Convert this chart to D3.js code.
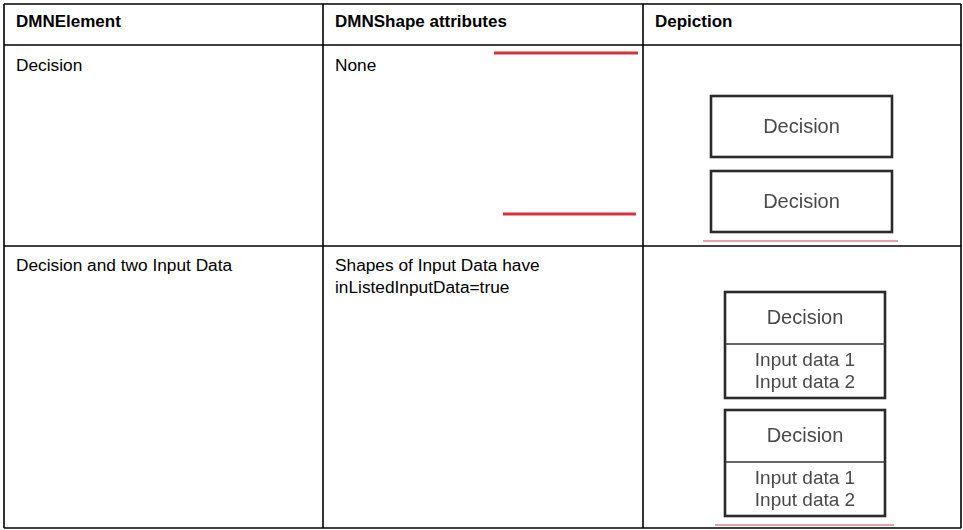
<!DOCTYPE html>
<html>
<head>
<meta charset="utf-8">
<script src="https://cdn.jsdelivr.net/npm/d3@7"></script>
<style>
html,body{margin:0;padding:0;background:#fff;}
svg{display:block;}
</style>
</head>
<body>
<svg id="chart" width="963" height="530"></svg>
<script>
// ---- data ----
const columns = ["DMNElement", "DMNShape attributes", "Depiction"];
const rowKeys = ["header", "row1", "row2"];
const elements = ["Decision", "Decision and two Input Data"];
const attributes = [["None"], ["Shapes of Input Data have", "inListedInputData=true"]];
const depictionTitles = ["Decision", "Decision"];
const depictionInputs = [[], ["Input data 1", "Input data 2"]];
const shapesPerRow = [2, 2];

// ---- layout scales ----
const colLeft = d3.scaleOrdinal().domain(columns).range([4, 323, 643]);
const tableRight = 961;
const rowTop = d3.scaleOrdinal().domain(rowKeys).range([4, 45, 246]);
const tableBottom = 528;

const svg = d3.select("#chart");
const font = "'Liberation Sans', Arial, Helvetica, sans-serif";

// grid lines
const gridColor = "#000";
const gw = 1.6;
const vx = columns.map(c => colLeft(c)).concat([tableRight]);
const hy = rowKeys.map(r => rowTop(r)).concat([tableBottom]);
svg.append("g").selectAll("line.v").data(vx).join("line")
  .attr("x1", d => d).attr("x2", d => d).attr("y1", hy[0]).attr("y2", tableBottom)
  .attr("stroke", gridColor).attr("stroke-width", gw);
svg.append("g").selectAll("line.h").data(hy).join("line")
  .attr("x1", vx[0]).attr("x2", tableRight).attr("y1", d => d).attr("y2", d => d)
  .attr("stroke", gridColor).attr("stroke-width", gw);

// header
svg.append("g").selectAll("text").data(columns).join("text")
  .attr("x", d => colLeft(d) + 12)
  .attr("y", rowTop("header") + 23)
  .attr("font-family", font).attr("font-size", 17).attr("font-weight", "bold")
  .attr("fill", "#000").text(d => d);

// row text column 1
const dataRows = rowKeys.slice(1);
const rowTextOffset = [26, 25];
svg.append("g").selectAll("text").data(elements).join("text")
  .attr("x", colLeft(columns[0]) + 12)
  .attr("y", (d, i) => rowTop(dataRows[i]) + rowTextOffset[i])
  .attr("font-family", font).attr("font-size", 17.3).attr("fill", "#000")
  .text(d => d);

// row text column 2
attributes.forEach((lines, i) => {
  svg.append("g").selectAll("text").data(lines).join("text")
    .attr("x", colLeft(columns[1]) + 12)
    .attr("y", (d, j) => rowTop(dataRows[i]) + rowTextOffset[i] + j * 21.5)
    .attr("font-family", font).attr("font-size", 17.3).attr("fill", "#000")
    .text(d => d);
});

// red annotation bars in column 2 (first row)
const redBars = [
  {x1: 494, x2: 638, y: 53},
  {x1: 503, x2: 636, y: 214}
];
svg.append("g").selectAll("line").data(redBars).join("line")
  .attr("x1", d => d.x1).attr("x2", d => d.x2).attr("y1", d => d.y).attr("y2", d => d.y)
  .attr("stroke", "#d6323a").attr("stroke-width", 3);

// depiction shapes
const shapeGeom = [
  {x: 711, w: 181, tops: [96, 171], h: 61, titleH: 61},
  {x: 725, w: 160, tops: [292, 410], h: 106, titleH: 52}
];
const underlines = [
  {x1: 703, x2: 898, y: 241},
  {x1: 715, x2: 894, y: 525}
];
svg.append("defs").append("filter").attr("id", "soft")
  .append("feGaussianBlur").attr("stdDeviation", 0.45);

depictionTitles.forEach((title, i) => {
  const g = shapeGeom[i];
  const inputs = depictionInputs[i];
  const shapes = d3.range(shapesPerRow[i]);
  const sg = svg.append("g").attr("filter", "url(#soft)");
  shapes.forEach(s => {
    const top = g.tops[s];
    sg.append("rect").attr("x", g.x).attr("y", top).attr("width", g.w).attr("height", g.h)
      .attr("fill", "#fff").attr("stroke", "#2b2b2b").attr("stroke-width", 2.6);
    sg.append("text").attr("x", g.x + g.w / 2).attr("y", top + g.titleH / 2 + 6)
      .attr("text-anchor", "middle").attr("font-family", font).attr("font-size", 20)
      .attr("fill", "#4a4a4a").text(title);
    if (inputs.length) {
      sg.append("line").attr("x1", g.x).attr("x2", g.x + g.w)
        .attr("y1", top + g.titleH).attr("y2", top + g.titleH)
        .attr("stroke", "#333").attr("stroke-width", 1.5);
      sg.selectAll(null).data(inputs).join("text")
        .attr("x", g.x + g.w / 2)
        .attr("y", (d, j) => top + g.titleH + 22 + j * 21.5)
        .attr("text-anchor", "middle").attr("font-family", font).attr("font-size", 19)
        .attr("fill", "#4a4a4a").text(d => d);
    }
  });
  const u = underlines[i];
  svg.append("line").attr("x1", u.x1).attr("x2", u.x2).attr("y1", u.y).attr("y2", u.y)
    .attr("stroke", "#c8464a").attr("stroke-width", 1);
});
</script>
</body>
</html>
